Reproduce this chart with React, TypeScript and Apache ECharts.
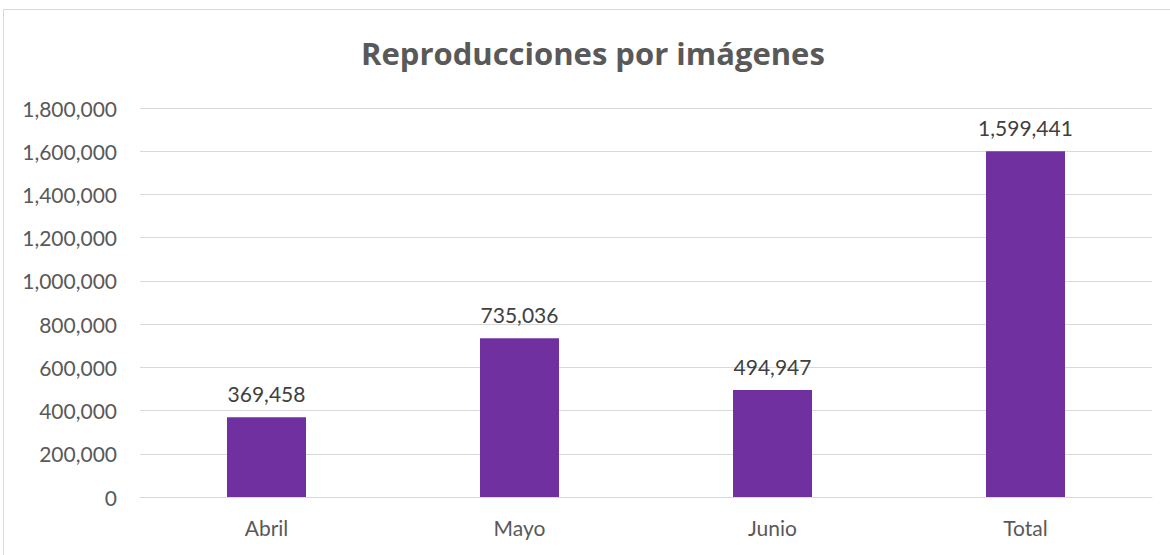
import React, { useEffect, useRef } from "react";
import * as echarts from "echarts";

const categories = ["Abril", "Mayo", "Junio", "Total"];
const values = [369458, 735036, 494947, 1599441];
const titleText = "Reproducciones por imágenes";

const fmt = (v: number) => v.toLocaleString("en-US");

export default function App() {
  const ref = useRef<HTMLDivElement>(null);
  useEffect(() => {
    document.body.style.margin = "0";
    const chart = echarts.init(ref.current!, null, { renderer: "svg" });
    chart.setOption({
      animation: false,
      backgroundColor: "#ffffff",
      title: {
        text: titleText,
        left: 356,
        top: 32,
        textStyle: { fontFamily: "Open Sans", fontWeight: "bold", fontSize: 31, color: "#595959" },
      },
      graphic: [
        {
          type: "rect",
          shape: { x: 3.5, y: 9.5, width: 1200, height: 600 },
          style: { fill: "none", stroke: "#d9d9d9", lineWidth: 1 },
          silent: true,
        },
      ],
      grid: { left: 140, right: 18, top: 108, bottom: 58, containLabel: false },
      xAxis: {
        type: "category",
        data: categories,
        axisLine: { lineStyle: { color: "#d9d9d9", width: 1 } },
        axisTick: { show: false },
        axisLabel: { color: "#595959", fontFamily: "Lato", fontSize: 21, margin: 20 },
      },
      yAxis: {
        type: "value",
        min: 0,
        max: 1800000,
        interval: 200000,
        axisLine: { show: false },
        axisTick: { show: false },
        splitLine: { lineStyle: { color: "#d9d9d9", width: 1 } },
        axisLabel: {
          color: "#595959",
          fontFamily: "Lato",
          fontSize: 21,
          margin: 23,
          formatter: (v: number) => fmt(v),
        },
      },
      series: [
        {
          type: "bar",
          data: values,
          barWidth: 79,
          itemStyle: { color: "#7030A0" },
          label: {
            show: true,
            position: "top",
            distance: 13,
            color: "#404040",
            fontFamily: "Lato",
            fontSize: 21,
            formatter: (p: any) => fmt(p.value),
          },
        },
      ],
    });
    return () => chart.dispose();
  }, []);
  return <div ref={ref} style={{ width: 1170, height: 555 }} />;
}
